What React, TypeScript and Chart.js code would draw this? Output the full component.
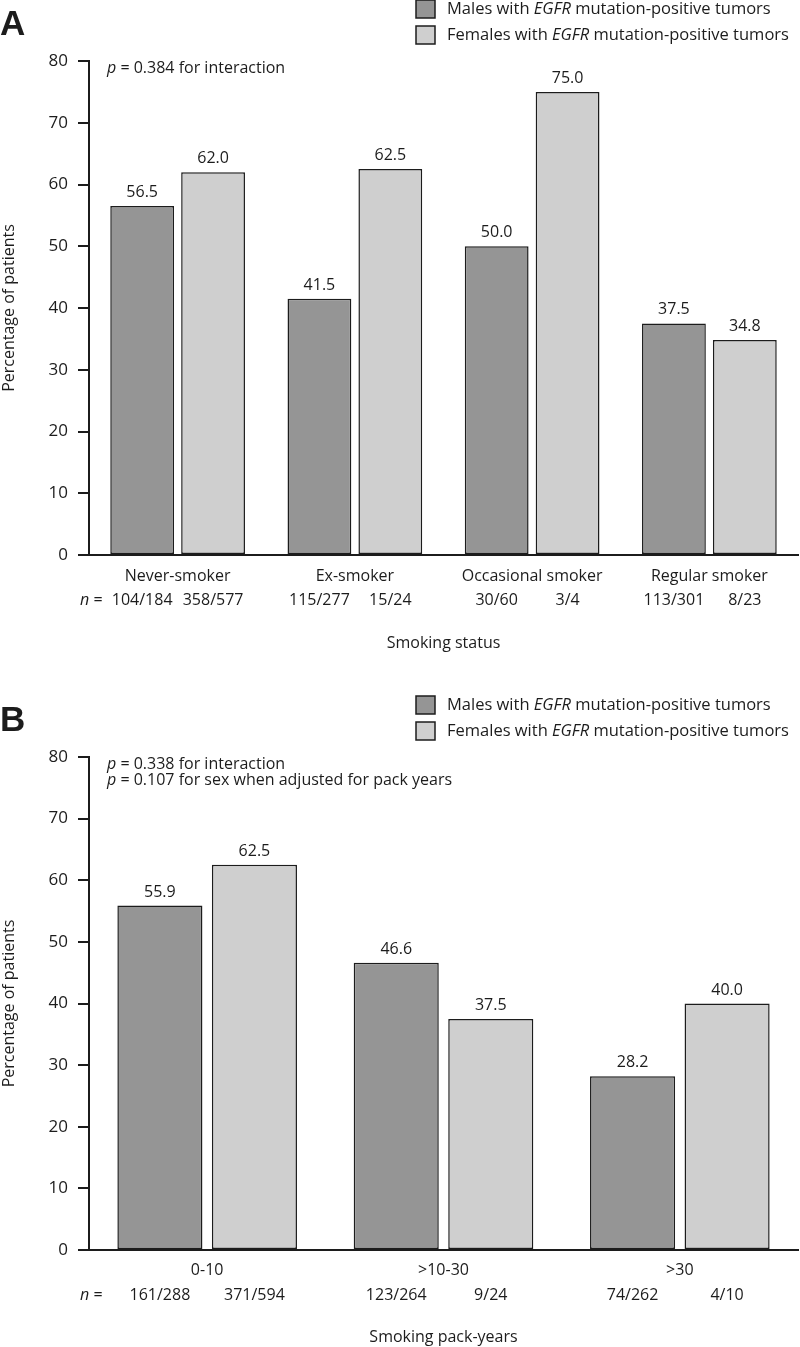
import { useEffect, useRef } from "react";
import { Chart, registerables } from "chart.js";
Chart.register(...registerables);

const FONT = "'Open Sans', sans-serif";
const INK = "#1c1c1c";
const MALE = "#959595";
const FEMALE = "#cfcfcf";

const seriesLabels = [
  "Males with EGFR mutation-positive tumors",
  "Females with EGFR mutation-positive tumors",
];

// panel A: smoking status
const statusCategories = ["Never-smoker", "Ex-smoker", "Occasional smoker", "Regular smoker"];
const statusMale = [56.5, 41.5, 50.0, 37.5];
const statusFemale = [62.0, 62.5, 75.0, 34.8];
const statusMaleN = ["104/184", "115/277", "30/60", "113/301"];
const statusFemaleN = ["358/577", "15/24", "3/4", "8/23"];
const statusNotes = ["= 0.384 for interaction"];

// panel B: pack-years
const packCategories = ["0-10", ">10-30", ">30"];
const packMale = [55.9, 46.6, 28.2];
const packFemale = [62.5, 37.5, 40.0];
const packMaleN = ["161/288", "123/264", "74/262"];
const packFemaleN = ["371/594", "9/24", "4/10"];
const packNotes = [
  "= 0.338 for interaction",
  "= 0.107 for sex when adjusted for pack years",
];

const yMax = 80;
const yStep = 10;

// draw a list of [text, italic] pieces one after another
const drawRich = (ctx: CanvasRenderingContext2D, parts: [string, boolean][], x: number, y: number, size = 16) => {
  let cx = x;
  for (const [t, it] of parts) {
    ctx.font = `${it ? "italic " : ""}${size}px ${FONT}`;
    ctx.fillText(t, cx, y);
    cx += ctx.measureText(t).width;
  }
};

const legendParts = (label: string): [string, boolean][] => {
  const [a, b] = label.split("EGFR");
  return [
    [a, false],
    ["EGFR", true],
    [b, false],
  ];
};

const annotations = (letter: string, notes: string[], maleN: string[], femaleN: string[]) => ({
  id: "annotations",
  afterDraw(chart: any) {
    const { ctx, chartArea } = chart;
    const top = chartArea.top;
    ctx.save();
    ctx.fillStyle = INK;
    ctx.textAlign = "left";

    ctx.textBaseline = "alphabetic";
    ctx.font = "bold 35px 'Liberation Sans', Arial, sans-serif";
    ctx.fillText(letter, 0, top - 26);

    // legend
    ctx.textBaseline = "middle";
    chart.data.datasets.forEach((ds: any, i: number) => {
      const cy = top - 52 + i * 26;
      ctx.fillStyle = ds.backgroundColor;
      ctx.fillRect(416, cy - 9, 19, 18);
      ctx.strokeStyle = INK;
      ctx.lineWidth = 1.5;
      ctx.strokeRect(416, cy - 9, 19, 18);
      ctx.fillStyle = INK;
      drawRich(ctx, legendParts(ds.label), 447, cy, 16.5);
    });

    notes.forEach((line, i) => {
      drawRich(
        ctx,
        [
          ["p", true],
          [" " + line, false],
        ],
        107,
        top + 7 + i * 16
      );
    });

    // value labels above bars and n row below axis
    const nRows = [maleN, femaleN];
    chart.data.datasets.forEach((ds: any, di: number) => {
      const meta = chart.getDatasetMeta(di);
      meta.data.forEach((bar: any, i: number) => {
        ctx.textAlign = "center";
        ctx.textBaseline = "alphabetic";
        ctx.font = `16px ${FONT}`;
        ctx.fillText(ds.data[i].toFixed(1), bar.x, bar.y - 9);
        ctx.textBaseline = "middle";
        ctx.fillText(nRows[di][i], bar.x, chartArea.bottom + 45);
      });
    });
    ctx.textAlign = "left";
    drawRich(
      ctx,
      [
        ["n", true],
        [" =", false],
      ],
      80,
      chartArea.bottom + 45
    );
    ctx.restore();
  },
});

const font = { family: FONT, size: 16 };

const makeConfig = (
  categories: string[],
  male: number[],
  female: number[],
  xTitle: string,
  padTop: number,
  xHeight: number,
  tickPad: number,
  titlePad: number,
  plugin: any
): any => ({
  type: "bar",
  data: {
    labels: categories,
    datasets: [
      { label: seriesLabels[0], data: male, backgroundColor: MALE },
      { label: seriesLabels[1], data: female, backgroundColor: FEMALE },
    ].map((d) => ({
      ...d,
      borderColor: INK,
      borderWidth: 1.5,
      borderSkipped: false,
      categoryPercentage: 0.8,
      barPercentage: 0.9,
    })),
  },
  options: {
    responsive: false,
    animation: false,
    layout: { padding: { top: padTop, left: 0, right: 2, bottom: 0 } },
    plugins: { legend: { display: false }, tooltip: { enabled: false } },
    scales: {
      x: {
        grid: { display: false, drawTicks: false },
        border: { display: true, color: INK, width: 2 },
        ticks: { color: INK, font, padding: tickPad, maxRotation: 0, autoSkip: false },
        title: { display: true, text: xTitle, color: INK, font, padding: { top: 0, bottom: titlePad } },
        afterFit: (s: any) => {
          s.height = xHeight;
        },
      },
      y: {
        min: 0,
        max: yMax,
        ticks: { stepSize: yStep, color: INK, font: { family: FONT, size: 17 }, padding: 10 },
        grid: { drawOnChartArea: false, tickLength: 11, color: INK, lineWidth: 2 },
        border: { color: INK, width: 2 },
        title: { display: true, text: "Percentage of patients", color: INK, font, padding: 0 },
        afterFit: (s: any) => {
          s.width = 89;
        },
      },
    },
  },
  plugins: [plugin],
});

const Panel = ({ config, height }: { config: any; height: number }) => {
  const canvasRef = useRef<HTMLCanvasElement | null>(null);
  useEffect(() => {
    if (!canvasRef.current) return;
    const chart = new Chart(canvasRef.current, config);
    return () => {
      chart.destroy();
    };
  }, []);
  return <canvas ref={canvasRef} width={800} height={height} style={{ display: "block" }} />;
};

const App = () => {
  const configA = makeConfig(
    statusCategories,
    statusMale,
    statusFemale,
    "Smoking status",
    61,
    115,
    12,
    17,
    annotations("A", statusNotes, statusMaleN, statusFemaleN)
  );
  const configB = makeConfig(
    packCategories,
    packMale,
    packFemale,
    "Smoking pack-years",
    87,
    97,
    11,
    0,
    annotations("B", packNotes, packMaleN, packFemaleN)
  );
  return (
    <div style={{ position: "absolute", left: 0, top: 0, width: 800, height: 1347, background: "#fff" }}>
      <Panel config={configA} height={670} />
      <Panel config={configB} height={677} />
    </div>
  );
};

export default App;
